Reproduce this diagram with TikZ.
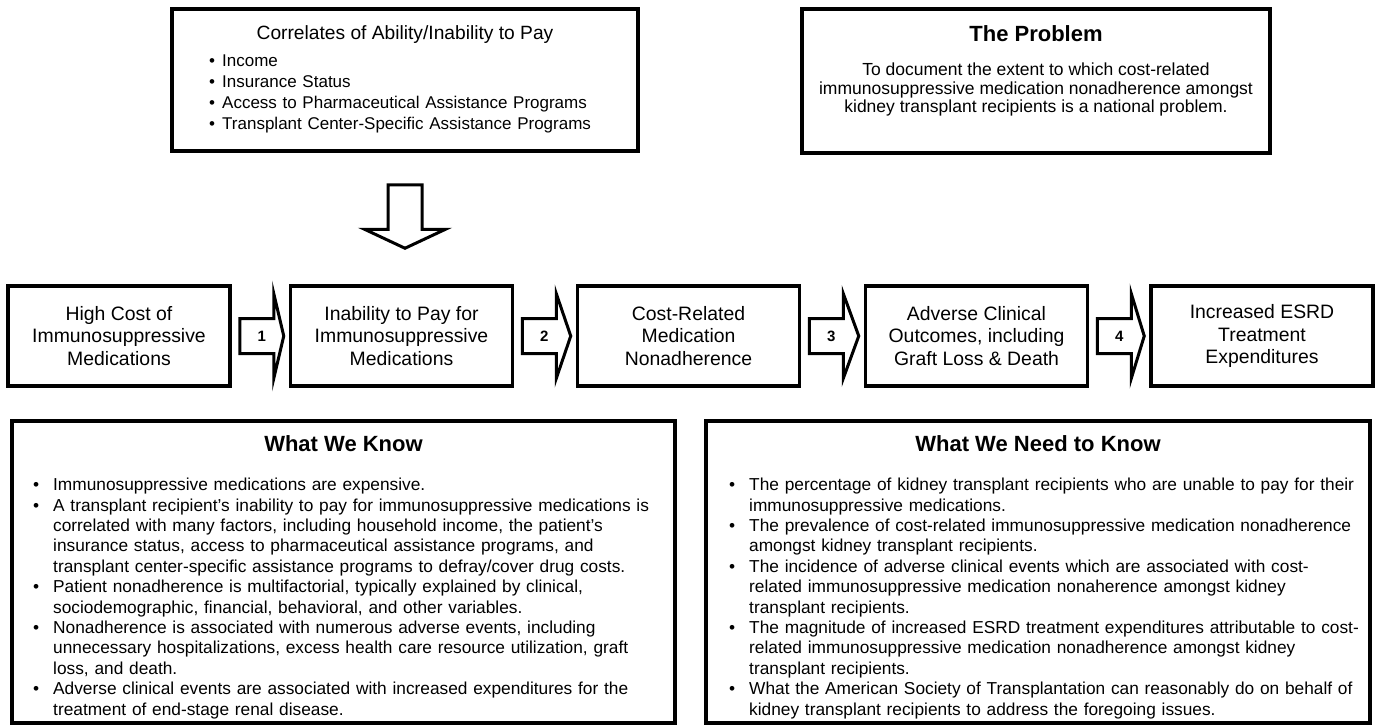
\documentclass[tikz,border=0pt]{standalone}
\usepackage{fontspec}
\setmainfont{Liberation Sans}
\usetikzlibrary{calc}
\newcommand{\bodyfnt}{\fontsize{17.3pt}{20.4pt}\selectfont\hyphenpenalty=10000 \exhyphenpenalty=10000 }
\newcommand{\itemfnt}{\fontsize{17pt}{21pt}\selectfont\hyphenpenalty=10000 \exhyphenpenalty=10000 }
\newcommand{\probfnt}{\fontsize{17.5pt}{18pt}\selectfont}
\newcommand{\nl}{\hfil\break}
\newcommand{\bitm}[1]{\par\hangindent=20pt\hangafter=1\noindent\strut\makebox[20pt][l]{\textbullet}#1\par}
\newcommand{\sitm}[1]{\par\hangindent=13pt\hangafter=1\noindent\strut\makebox[13pt][l]{\textbullet}#1\par}
\newcommand{\hblock}[3]{%
  \draw[blk] let \p1=(#1.east), \p2=(#2.west) in
    ({\x1+8pt},{\y1+17.5pt}) -- ({\x1+42pt},{\y1+17.5pt}) -- ({\x1+42pt},{\y1+42.5pt})
    -- ({\x2-5pt},{\y1}) -- ({\x1+42pt},{\y1-42.5pt}) -- ({\x1+42pt},{\y1-17.5pt})
    -- ({\x1+8pt},{\y1-17.5pt}) -- cycle;
  \node[num] (n#3) at ($(#1.east)+(30,0)$) {#3};}
\begin{document}
\begin{tikzpicture}[x=1pt,y=-1pt,
  box/.style={draw, line width=3.5pt, inner sep=0pt},
  rowbox/.style={box, minimum width=222pt, minimum height=100pt, align=center,
                 font=\fontsize{19.4pt}{22.5pt}\selectfont},
  ttl/.style={anchor=base, inner sep=0pt, font=\fontsize{22pt}{26pt}\selectfont\bfseries},
  body/.style={anchor=north west, inner sep=0pt, align=left, font=\bodyfnt},
  blk/.style={draw, line width=3pt, fill=white, line join=miter},
  num/.style={inner sep=0pt, font=\fontsize{15pt}{15pt}\selectfont\bfseries}
]
\useasboundingbox (0,0) rectangle (1376,726);

% top-left box
\node[box, minimum width=466pt, minimum height=142pt] (tl) at (405,80) {};
\node[ttl, font=\fontsize{19.2pt}{22pt}\selectfont] (tlh) at (405,39) {Correlates of Ability/Inability to Pay};
\node[body, font=\itemfnt, text width=420pt] (tli) at (209,45.3) {%
\sitm{Income}
\sitm{Insurance Status}
\sitm{Access to Pharmaceutical Assistance Programs}
\sitm{Transplant Center-Specific Assistance Programs}};

% top-right box
\node[box, minimum width=468pt, minimum height=144pt] (tr) at (1036,81) {};
\node[ttl] (trh) at (1036,41) {The Problem};
\node[anchor=north, inner sep=0pt, align=center, font=\probfnt] (trb) at (1036,62.9)
  {\strut To document the extent to which cost-related\\immunosuppressive medication nonadherence amongst\\kidney transplant recipients is a national problem.};

% row of boxes
\node[rowbox] (b1) at (119,336) {High Cost of\\Immunosuppressive\\Medications};
\node[rowbox] (b2) at (401.5,336) {Inability to Pay for\\Immunosuppressive\\Medications};
\node[rowbox] (b3) at (688.5,336) {Cost-Related\\Medication\\Nonadherence};
\node[rowbox] (b4) at (976.5,336) {Adverse Clinical\\Outcomes, including\\Graft Loss \& Death};
\node[rowbox] (b5) at (1262,336) {Increased ESRD\\Treatment\\Expenditures};

\hblock{b1}{b2}{1}
\hblock{b2}{b3}{2}
\hblock{b3}{b4}{3}
\hblock{b4}{b5}{4}

% down arrow
\draw[blk] let \p1=(tl.south), \p2=(b2.north) in
  ({\x1-17pt},{\y1-32pt}) -- ({\x1+17pt},{\y1-32pt}) -- ({\x1+17pt},{\y2+55pt})
  -- ({\x1+40.5pt},{\y2+55pt}) -- ({\x1},{\y2+36pt}) -- ({\x1-40.5pt},{\y2+55pt})
  -- ({\x1-17pt},{\y2+55pt}) -- cycle;

% bottom-left box
\node[box, minimum width=663pt, minimum height=302pt] (wk) at (343.5,572) {};
\node[ttl] (wkh) at (343.5,451) {What We Know};
\node[body, text width=640pt] (wkb) at (33,470) {%
\bitm{Immunosuppressive medications are expensive.}
\bitm{A transplant recipient’s inability to pay for immunosuppressive medications is\nl correlated with many factors, including household income, the patient’s\nl insurance status, access to pharmaceutical assistance programs, and\nl transplant center-specific assistance programs to defray/cover drug costs.}
\bitm{Patient nonadherence is multifactorial, typically explained by clinical,\nl sociodemographic, financial, behavioral, and other variables.}
\bitm{Nonadherence is associated with numerous adverse events, including\nl unnecessary hospitalizations, excess health care resource utilization, graft\nl loss, and death.}
\bitm{Adverse clinical events are associated with increased expenditures for the\nl treatment of end-stage renal disease.}};

% bottom-right box
\node[box, minimum width=664pt, minimum height=302pt] (wn) at (1038,572) {};
\node[ttl] (wnh) at (1038,451) {What We Need to Know};
\node[body, text width=630pt] (wnb) at (729,470) {%
\bitm{The percentage of kidney transplant recipients who are unable to pay for their\nl immunosuppressive medications.}
\bitm{The prevalence of cost-related immunosuppressive medication nonadherence\nl amongst kidney transplant recipients.}
\bitm{The incidence of adverse clinical events which are associated with cost-\nl related immunosuppressive medication nonaherence amongst kidney\nl transplant recipients.}
\bitm{The magnitude of increased ESRD treatment expenditures attributable to cost-\nl related immunosuppressive medication nonadherence amongst kidney\nl transplant recipients.}
\bitm{What the American Society of Transplantation can reasonably do on behalf of\nl kidney transplant recipients to address the foregoing issues.}};
\end{tikzpicture}
\end{document}
